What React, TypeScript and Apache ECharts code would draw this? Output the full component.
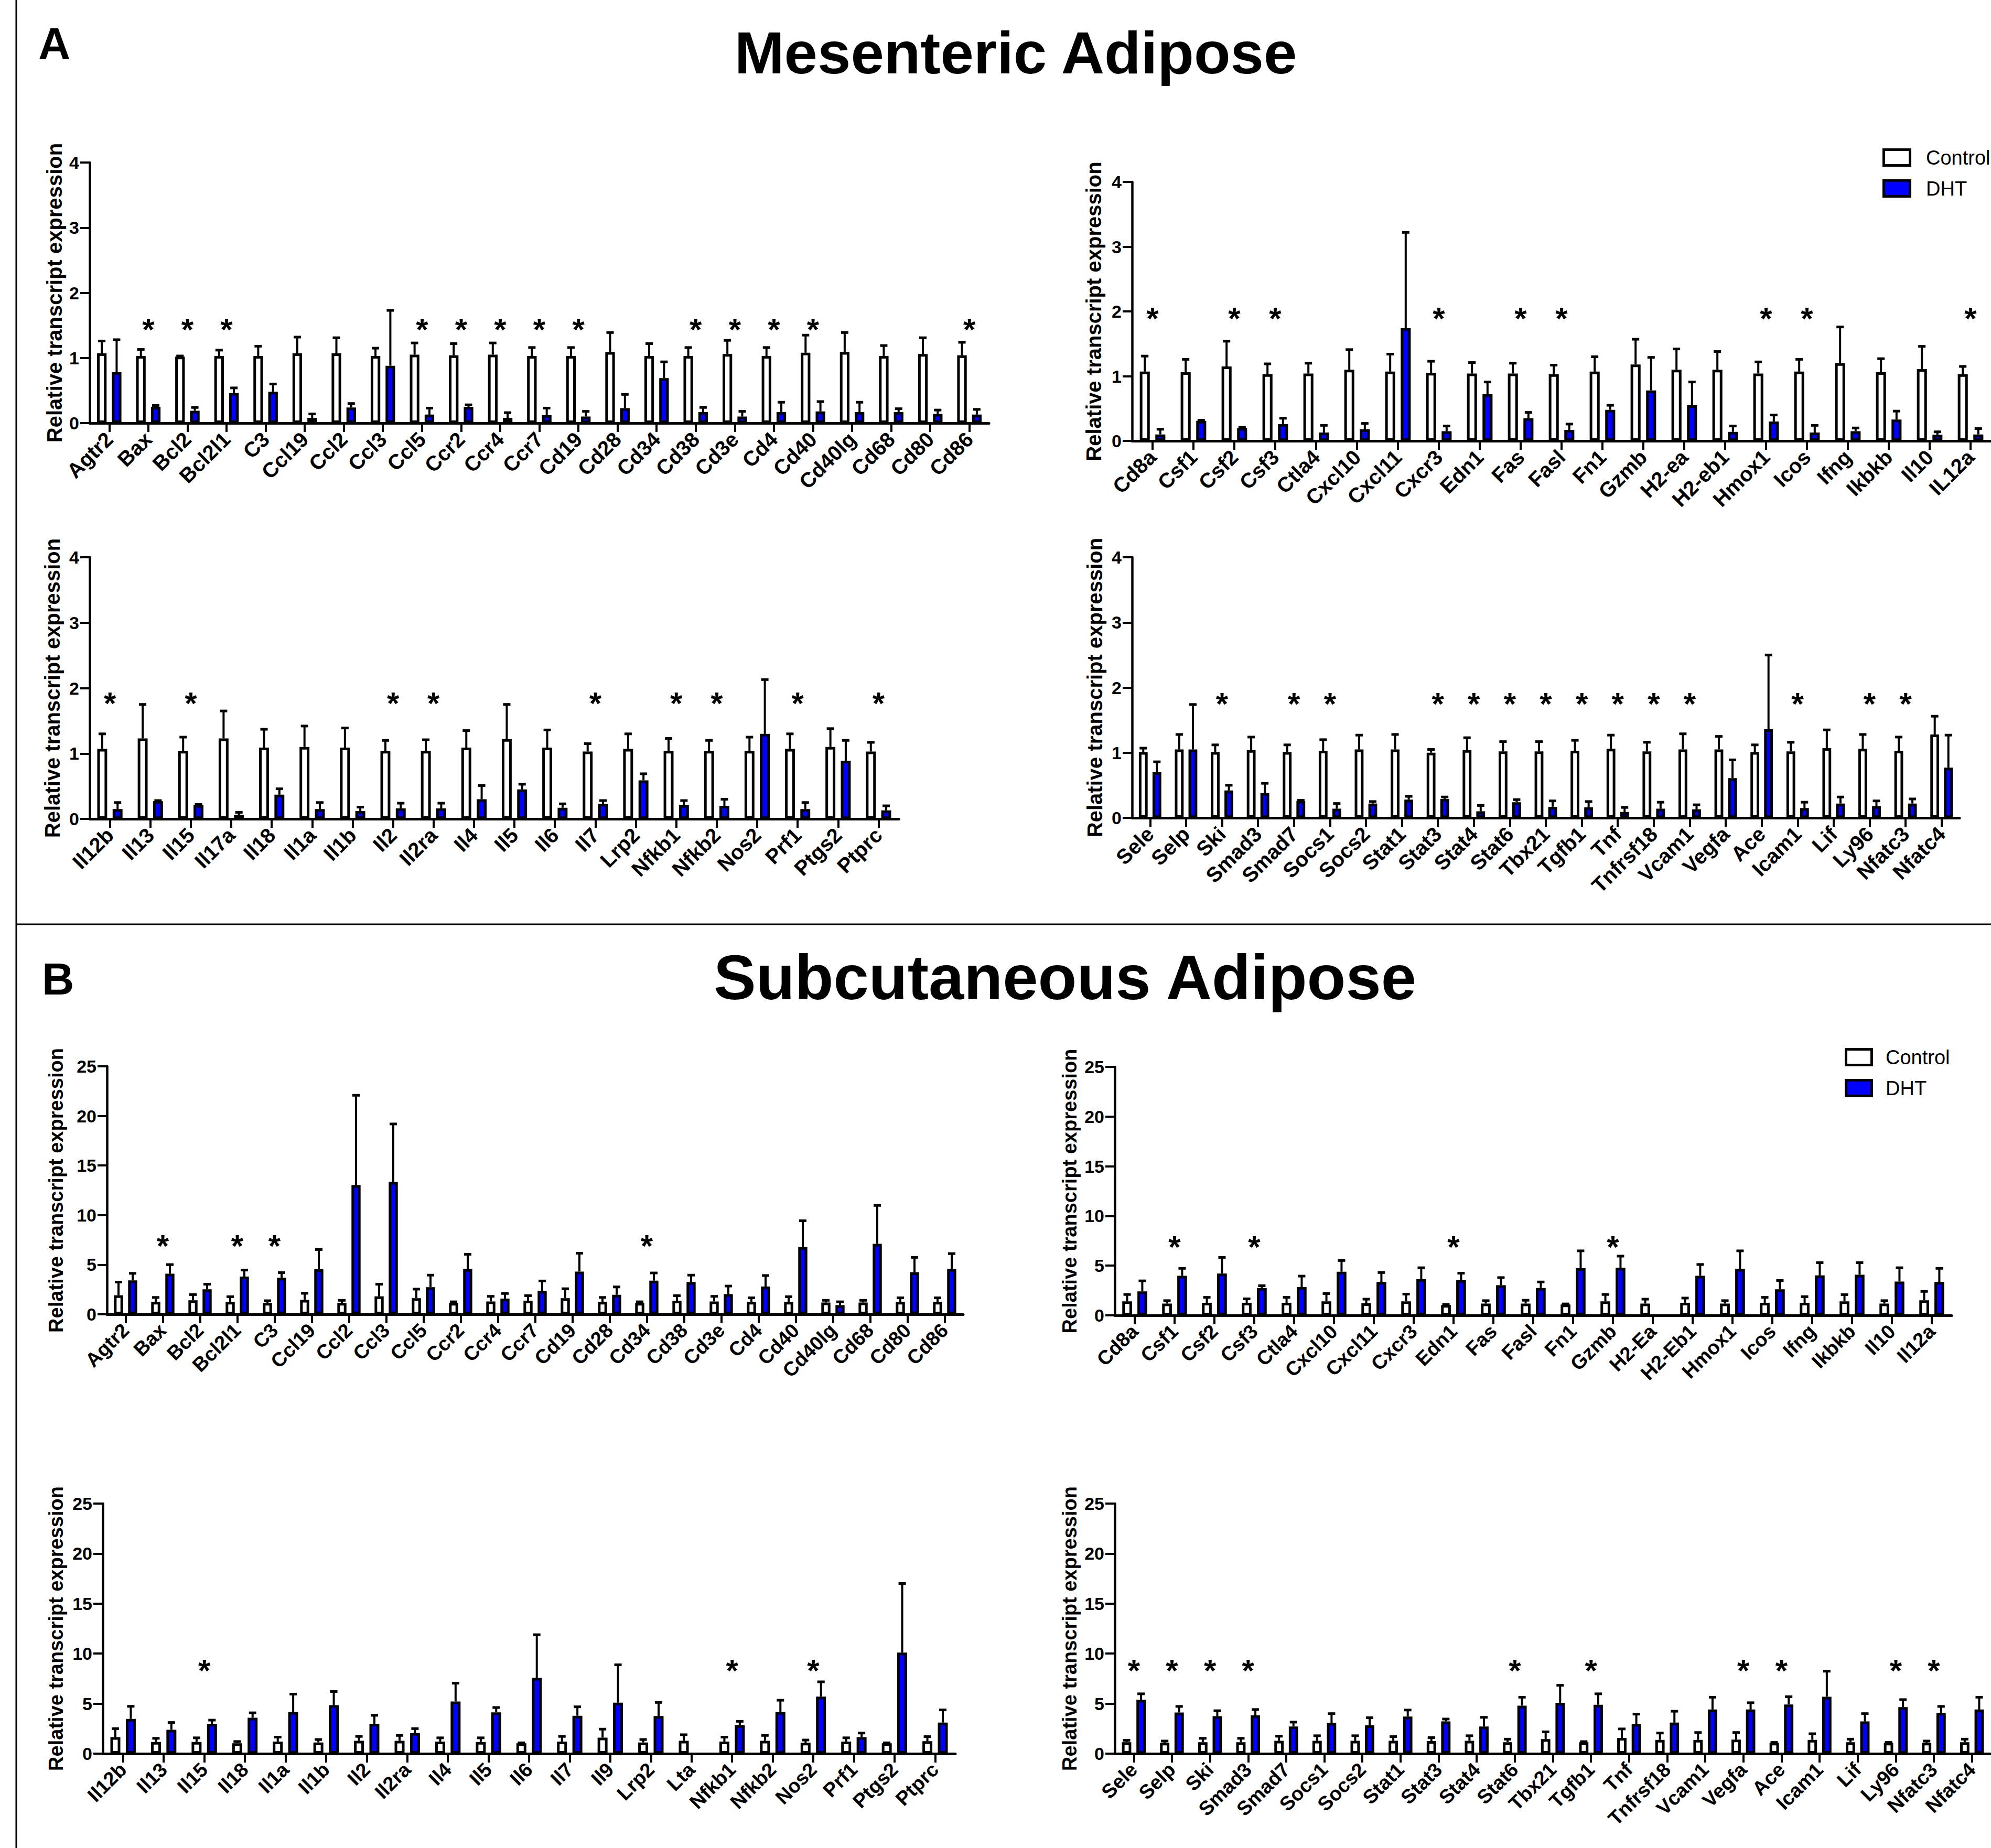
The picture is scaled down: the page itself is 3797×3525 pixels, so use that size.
import React, { useEffect, useRef } from "react";
import * as echarts from "echarts";

const W = 3797;
const H = 3525;
const FONT = '"Liberation Sans", Arial, Helvetica, sans-serif';

// ---------------- Mesenteric adipose (A) ----------------
const mesA_cats = ["Agtr2", "Bax", "Bcl2", "Bcl2l1", "C3", "Ccl19", "Ccl2", "Ccl3", "Ccl5", "Ccr2", "Ccr4", "Ccr7", "Cd19", "Cd28", "Cd34", "Cd38", "Cd3e", "Cd4", "Cd40", "Cd40lg", "Cd68", "Cd80", "Cd86"];
const mesA_ctrl = [1.07, 1.03, 1.02, 1.03, 1.03, 1.07, 1.07, 1.03, 1.05, 1.04, 1.05, 1.03, 1.03, 1.09, 1.03, 1.03, 1.06, 1.03, 1.08, 1.09, 1.03, 1.06, 1.04];
const mesA_ctrlTop = [1.26, 1.13, 1.03, 1.12, 1.18, 1.32, 1.31, 1.15, 1.23, 1.22, 1.23, 1.16, 1.16, 1.39, 1.22, 1.16, 1.27, 1.16, 1.35, 1.39, 1.19, 1.31, 1.24];
const mesA_dht = [0.78, 0.25, 0.19, 0.46, 0.48, 0.08, 0.24, 0.88, 0.13, 0.25, 0.08, 0.12, 0.1, 0.23, 0.69, 0.17, 0.1, 0.17, 0.18, 0.17, 0.17, 0.14, 0.13];
const mesA_dhtTop = [1.28, 0.27, 0.24, 0.54, 0.6, 0.14, 0.3, 1.73, 0.23, 0.28, 0.16, 0.23, 0.18, 0.44, 0.94, 0.24, 0.18, 0.32, 0.33, 0.32, 0.22, 0.2, 0.21];
const mesA_stars = ["Bax", "Bcl2", "Bcl2l1", "Ccl5", "Ccr2", "Ccr4", "Ccr7", "Cd19", "Cd38", "Cd3e", "Cd4", "Cd40", "Cd86"];
const mesA_starY = 1.54;

const mesB_cats = ["Cd8a", "Csf1", "Csf2", "Csf3", "Ctla4", "Cxcl10", "Cxcl11", "Cxcr3", "Edn1", "Fas", "Fasl", "Fn1", "Gzmb", "H2-ea", "H2-eb1", "Hmox1", "Icos", "Ifng", "Ikbkb", "Il10", "IL12a"];
const mesB_ctrl = [1.07, 1.06, 1.15, 1.03, 1.04, 1.1, 1.07, 1.05, 1.04, 1.04, 1.03, 1.07, 1.18, 1.1, 1.1, 1.04, 1.07, 1.2, 1.06, 1.11, 1.03];
const mesB_ctrlTop = [1.31, 1.26, 1.54, 1.19, 1.2, 1.41, 1.34, 1.23, 1.21, 1.2, 1.17, 1.3, 1.57, 1.42, 1.38, 1.22, 1.26, 1.76, 1.27, 1.46, 1.15];
const mesB_dht = [0.1, 0.31, 0.2, 0.26, 0.13, 0.18, 1.74, 0.15, 0.72, 0.35, 0.17, 0.48, 0.78, 0.55, 0.14, 0.3, 0.13, 0.15, 0.33, 0.095, 0.1];
const mesB_dhtTop = [0.18, 0.32, 0.21, 0.35, 0.24, 0.27, 3.22, 0.23, 0.91, 0.44, 0.26, 0.55, 1.29, 0.91, 0.23, 0.4, 0.24, 0.2, 0.46, 0.14, 0.19];
const mesB_stars = ["Cd8a", "Csf2", "Csf3", "Cxcr3", "Fas", "Fasl", "Hmox1", "Icos", "IL12a"];
const mesB_starY = 2.0;

const mesC_cats = ["Il12b", "Il13", "Il15", "Il17a", "Il18", "Il1a", "Il1b", "Il2", "Il2ra", "Il4", "Il5", "Il6", "Il7", "Lrp2", "Nfkb1", "Nfkb2", "Nos2", "Prf1", "Ptgs2", "Ptprc"];
const mesC_ctrl = [1.07, 1.23, 1.04, 1.23, 1.09, 1.1, 1.09, 1.04, 1.04, 1.09, 1.22, 1.09, 1.03, 1.07, 1.04, 1.04, 1.04, 1.07, 1.1, 1.03];
const mesC_ctrlTop = [1.3, 1.75, 1.25, 1.65, 1.37, 1.42, 1.39, 1.2, 1.21, 1.35, 1.75, 1.36, 1.15, 1.3, 1.23, 1.2, 1.25, 1.3, 1.38, 1.17];
const mesC_dht = [0.15, 0.27, 0.21, 0.06, 0.37, 0.15, 0.12, 0.16, 0.16, 0.3, 0.45, 0.17, 0.23, 0.59, 0.21, 0.2, 1.3, 0.15, 0.89, 0.13];
const mesC_dhtTop = [0.25, 0.28, 0.22, 0.1, 0.46, 0.25, 0.18, 0.24, 0.24, 0.51, 0.53, 0.23, 0.28, 0.69, 0.28, 0.3, 2.13, 0.25, 1.2, 0.2];
const mesC_stars = ["Il12b", "Il15", "Il2", "Il2ra", "Il7", "Nfkb1", "Nfkb2", "Prf1", "Ptprc"];
const mesC_starY = 1.87;

const mesD_cats = ["Sele", "Selp", "Ski", "Smad3", "Smad7", "Socs1", "Socs2", "Stat1", "Stat3", "Stat4", "Stat6", "Tbx21", "Tgfb1", "Tnf", "Tnfrsf18", "Vcam1", "Vegfa", "Ace", "Icam1", "Lif", "Ly96", "Nfatc3", "Nfatc4"];
const mesD_ctrl = [1.01, 1.05, 1.01, 1.04, 1.01, 1.03, 1.05, 1.05, 1.0, 1.04, 1.02, 1.02, 1.03, 1.06, 1.02, 1.05, 1.05, 1.01, 1.02, 1.07, 1.06, 1.03, 1.28];
const mesD_ctrlTop = [1.07, 1.28, 1.12, 1.24, 1.12, 1.2, 1.27, 1.28, 1.05, 1.23, 1.17, 1.17, 1.19, 1.27, 1.16, 1.29, 1.25, 1.12, 1.16, 1.35, 1.28, 1.24, 1.56];
const mesD_dht = [0.7, 1.05, 0.42, 0.38, 0.26, 0.14, 0.22, 0.28, 0.29, 0.1, 0.24, 0.17, 0.16, 0.09, 0.14, 0.13, 0.61, 1.36, 0.15, 0.22, 0.18, 0.22, 0.77];
const mesD_dhtTop = [0.86, 1.74, 0.5, 0.53, 0.27, 0.22, 0.25, 0.33, 0.32, 0.19, 0.28, 0.26, 0.25, 0.16, 0.24, 0.2, 0.89, 2.5, 0.24, 0.32, 0.26, 0.29, 1.27];
const mesD_stars = ["Ski", "Smad7", "Socs1", "Stat3", "Stat4", "Stat6", "Tbx21", "Tgfb1", "Tnf", "Tnfrsf18", "Vcam1", "Icam1", "Ly96", "Nfatc3"];
const mesD_starY = 1.86;

// ---------------- Subcutaneous adipose (B) ----------------
const subA_cats = ["Agtr2", "Bax", "Bcl2", "Bcl2l1", "C3", "Ccl19", "Ccl2", "Ccl3", "Ccl5", "Ccr2", "Ccr4", "Ccr7", "Cd19", "Cd28", "Cd34", "Cd38", "Cd3e", "Cd4", "Cd40", "Cd40lg", "Cd68", "Cd80", "Cd86"];
const subA_ctrl = [1.92, 1.26, 1.41, 1.26, 1.15, 1.45, 1.15, 1.81, 1.63, 1.15, 1.3, 1.37, 1.63, 1.26, 1.15, 1.37, 1.3, 1.26, 1.26, 1.19, 1.19, 1.26, 1.26];
const subA_ctrlTop = [3.25, 1.7, 1.99, 1.77, 1.37, 2.12, 1.41, 3.03, 2.54, 1.26, 1.81, 1.88, 2.58, 1.7, 1.26, 1.88, 1.81, 1.66, 1.77, 1.41, 1.41, 1.66, 1.66];
const subA_dht = [3.42, 4.09, 2.52, 3.8, 3.69, 4.55, 13.03, 13.34, 2.74, 4.57, 1.59, 2.36, 4.31, 1.97, 3.4, 3.25, 2.03, 2.8, 6.78, 0.93, 7.11, 4.24, 4.57];
const subA_dhtTop = [4.13, 5.01, 3.03, 4.46, 4.2, 6.53, 22.08, 19.19, 3.95, 6.05, 2.1, 3.36, 6.16, 2.76, 4.17, 3.95, 2.85, 3.91, 9.43, 1.26, 10.98, 5.74, 6.12];
const subA_stars = ["Bax", "Bcl2l1", "C3", "Cd34"];
const subA_starY = 7.6;

const subB_cats = ["Cd8a", "Csf1", "Csf2", "Csf3", "Ctla4", "Cxcl10", "Cxcl11", "Cxcr3", "Edn1", "Fas", "Fasl", "Fn1", "Gzmb", "H2-Ea", "H2-Eb1", "Hmox1", "Icos", "Ifng", "Ikbkb", "Il10", "Il12a"];
const subB_ctrl = [1.41, 1.19, 1.26, 1.26, 1.26, 1.41, 1.21, 1.41, 1.04, 1.19, 1.19, 1.1, 1.41, 1.19, 1.26, 1.19, 1.26, 1.26, 1.41, 1.19, 1.52];
const subB_ctrlTop = [2.1, 1.48, 1.81, 1.66, 1.81, 2.19, 1.63, 2.14, 1.08, 1.48, 1.52, 1.15, 2.1, 1.63, 1.74, 1.48, 1.81, 1.88, 2.08, 1.48, 2.41];
const subB_dht = [2.41, 3.98, 4.2, 2.76, 2.85, 4.39, 3.36, 3.64, 3.53, 3.03, 2.76, 4.75, 4.79, null, 3.98, 4.68, 2.63, 4.02, 4.09, 3.4, 3.36];
const subB_dhtTop = [3.47, 4.73, 5.83, 2.98, 3.95, 5.52, 4.31, 4.79, 4.24, 3.8, 3.36, 6.49, 5.96, null, 5.12, 6.49, 3.51, 5.3, 5.3, 4.79, 4.73];
const subB_stars = ["Csf1", "Csf3", "Edn1", "Gzmb"];
const subB_starY = 7.6;

const subC_cats = ["Il12b", "Il13", "Il15", "Il18", "Il1a", "Il1b", "Il2", "Il2ra", "Il4", "Il5", "Il6", "Il7", "Il9", "Lrp2", "Lta", "Nfkb1", "Nfkb2", "Nos2", "Prf1", "Ptgs2", "Ptprc"];
const subC_ctrl = [1.65, 1.17, 1.17, 1.04, 1.21, 1.12, 1.29, 1.29, 1.21, 1.17, 1.04, 1.21, 1.6, 1.12, 1.29, 1.21, 1.29, 1.09, 1.21, 1.04, 1.24];
const subC_ctrlTop = [2.5, 1.53, 1.58, 1.21, 1.65, 1.41, 1.72, 1.82, 1.58, 1.58, 1.08, 1.72, 2.45, 1.41, 1.89, 1.65, 1.82, 1.36, 1.58, 1.08, 1.7];
const subC_dht = [3.47, 2.38, 2.99, 3.59, 4.15, 4.85, 2.99, 2.06, 5.22, 4.13, 7.57, 3.79, 5.1, 3.76, null, 2.86, 4.15, 5.7, 1.65, 10.1, 3.11];
const subC_dhtTop = [4.73, 3.11, 3.35, 4.08, 5.95, 6.21, 3.83, 2.5, 7.04, 4.61, 11.89, 4.68, 8.88, 5.12, null, 3.23, 5.34, 7.18, 2.06, 17.01, 4.37];
const subC_stars = ["Il15", "Nfkb1", "Nos2"];
const subC_starY = 9.0;

const subD_cats = ["Sele", "Selp", "Ski", "Smad3", "Smad7", "Socs1", "Socs2", "Stat1", "Stat3", "Stat4", "Stat6", "Tbx21", "Tgfb1", "Tnf", "Tnfrsf18", "Vcam1", "Vegfa", "Ace", "Icam1", "Lif", "Ly96", "Nfatc3", "Nfatc4"];
const subD_ctrl = [1.14, 1.09, 1.14, 1.14, 1.28, 1.28, 1.28, 1.28, 1.26, 1.28, 1.14, 1.45, 1.14, 1.57, 1.38, 1.38, 1.4, 1.09, 1.38, 1.14, 1.09, 1.09, 1.14];
const subD_ctrlTop = [1.33, 1.26, 1.53, 1.53, 1.74, 1.79, 1.79, 1.7, 1.6, 1.79, 1.45, 2.18, 1.2, 2.47, 2.06, 2.11, 2.11, 1.12, 1.99, 1.45, 1.12, 1.26, 1.45];
const subD_dht = [5.38, 4.12, 3.75, 3.83, 2.71, 3.08, 2.83, 3.71, 3.22, 2.71, 4.8, 5.09, 4.89, 2.96, 3.1, 4.41, 4.41, 4.92, 5.69, 3.22, 4.65, 4.07, 4.41];
const subD_dhtTop = [5.98, 4.72, 4.29, 4.41, 3.15, 4.0, 3.59, 4.36, 3.46, 3.63, 5.64, 6.83, 5.98, 3.95, 4.24, 5.64, 5.09, 5.69, 8.24, 4.0, 5.4, 4.72, 5.64];
const subD_stars = ["Sele", "Selp", "Ski", "Smad3", "Stat6", "Tgfb1", "Vegfa", "Ace", "Ly96", "Nfatc3"];
const subD_starY = 9.0;

const mesTicks = { max: 4, step: 1 };
const subTicks = { max: 25, step: 5 };

const Y_TITLE = "Relative transcript expression";
const SERIES_NAMES = ["Control", "DHT"];

// layout (pixels) for each panel
const panels = [
  { cats: mesA_cats, ctrl: mesA_ctrl, ctrlTop: mesA_ctrlTop, dht: mesA_dht, dhtTop: mesA_dhtTop, stars: mesA_stars, starY: mesA_starY, ticks: mesTicks, left: 171, top: 310, width: 1715, height: 497, titleX: 104, catFont: 40, titleFont: 40 },
  { cats: mesB_cats, ctrl: mesB_ctrl, ctrlTop: mesB_ctrlTop, dht: mesB_dht, dhtTop: mesB_dhtTop, stars: mesB_stars, starY: mesB_starY, ticks: mesTicks, left: 2159, top: 347, width: 1638, height: 494, titleX: 2086, catFont: 40, titleFont: 40 },
  { cats: mesC_cats, ctrl: mesC_ctrl, ctrlTop: mesC_ctrlTop, dht: mesC_dht, dhtTop: mesC_dhtTop, stars: mesC_stars, starY: mesC_starY, ticks: mesTicks, left: 171, top: 1063, width: 1543, height: 499, titleX: 100, catFont: 40, titleFont: 40 },
  { cats: mesD_cats, ctrl: mesD_ctrl, ctrlTop: mesD_ctrlTop, dht: mesD_dht, dhtTop: mesD_dhtTop, stars: mesD_stars, starY: mesD_starY, ticks: mesTicks, left: 2159, top: 1063, width: 1578, height: 497, titleX: 2088, catFont: 40, titleFont: 40 },
  { cats: subA_cats, ctrl: subA_ctrl, ctrlTop: subA_ctrlTop, dht: subA_dht, dhtTop: subA_dhtTop, stars: subA_stars, starY: subA_starY, ticks: subTicks, left: 204, top: 2034, width: 1633, height: 473, titleX: 107, catFont: 38, titleFont: 38 },
  { cats: subB_cats, ctrl: subB_ctrl, ctrlTop: subB_ctrlTop, dht: subB_dht, dhtTop: subB_dhtTop, stars: subB_stars, starY: subB_starY, ticks: subTicks, left: 2126, top: 2035, width: 1596, height: 474, titleX: 2040, catFont: 38, titleFont: 38 },
  { cats: subC_cats, ctrl: subC_ctrl, ctrlTop: subC_ctrlTop, dht: subC_dht, dhtTop: subC_dhtTop, stars: subC_stars, starY: subC_starY, ticks: subTicks, left: 196, top: 2868, width: 1626, height: 477, titleX: 107, catFont: 38, titleFont: 38 },
  { cats: subD_cats, ctrl: subD_ctrl, ctrlTop: subD_ctrlTop, dht: subD_dht, dhtTop: subD_dhtTop, stars: subD_stars, starY: subD_starY, ticks: subTicks, left: 2126, top: 2868, width: 1671, height: 477, titleX: 2040, catFont: 38, titleFont: 38 },
];

const BAR_FRAC = 0.245; // bar width as fraction of the category band
const BAR_GAP = 0.55; // gap between the two bars as fraction of bar width
const STAR_SIZE = 60;

function buildOption() {
  const grid: any[] = [];
  const xAxis: any[] = [];
  const yAxis: any[] = [];
  const series: any[] = [];
  const graphic: any[] = [];

  panels.forEach((p, i) => {
    grid.push({ left: p.left, top: p.top, width: p.width, height: p.height, containLabel: false });
    xAxis.push({
      type: "category",
      gridIndex: i,
      data: p.cats,
      axisLine: { show: true, lineStyle: { color: "#000", width: 5 } },
      axisTick: { show: true, alignWithLabel: true, length: 17, lineStyle: { color: "#000", width: 4 } },
      axisLabel: {
        interval: 0,
        rotate: 45,
        margin: 24,
        color: "#000",
        fontSize: p.catFont,
        fontWeight: "bold",
        fontFamily: FONT,
      },
      splitLine: { show: false },
    });
    yAxis.push({
      type: "value",
      gridIndex: i,
      min: 0,
      max: p.ticks.max,
      interval: p.ticks.step,
      axisLine: { show: true, lineStyle: { color: "#000", width: 4.5 } },
      axisTick: { show: true, length: 18, lineStyle: { color: "#000", width: 4 } },
      axisLabel: { color: "#000", fontSize: 34, fontWeight: "bold", fontFamily: FONT, margin: 20 },
      splitLine: { show: false },
    });

    const barCommon = {
      type: "bar",
      xAxisIndex: i,
      yAxisIndex: i,
      barWidth: (BAR_FRAC * 100).toFixed(1) + "%",
      barGap: (BAR_GAP * 100).toFixed(0) + "%",
      silent: true,
      z: 2,
    };
    series.push({
      ...barCommon,
      name: SERIES_NAMES[0],
      data: p.ctrl,
      itemStyle: { color: "#ffffff", borderColor: "#000", borderWidth: 5 },
    });
    series.push({
      ...barCommon,
      name: SERIES_NAMES[1],
      data: p.dht.map((v) => (v == null ? "-" : v)),
      itemStyle: { color: "#0000ff", borderColor: "#000", borderWidth: 5 },
    });

    const errData: any[] = [];
    p.cats.forEach((_, j) => {
      if (p.ctrl[j] != null && p.ctrlTop[j] != null) errData.push([j, p.ctrl[j], p.ctrlTop[j], 0]);
      if (p.dht[j] != null && p.dhtTop[j] != null) errData.push([j, p.dht[j], p.dhtTop[j], 1]);
    });
    series.push({
      type: "custom",
      xAxisIndex: i,
      yAxisIndex: i,
      silent: true,
      z: 4,
      data: errData,
      renderItem: (params: any, api: any) => {
        const idx = api.value(0);
        const mean = api.value(1);
        const top = api.value(2);
        const g = api.value(3);
        const band = api.coord([1, 0])[0] - api.coord([0, 0])[0];
        const w = band * BAR_FRAC;
        const off = (w + w * BAR_GAP) / 2;
        const cx = api.coord([idx, 0])[0] + (g === 0 ? -off : off);
        const y0 = api.coord([idx, mean])[1];
        const y1 = api.coord([idx, top])[1];
        return {
          type: "group",
          children: [
            { type: "line", shape: { x1: cx, y1: y0, x2: cx, y2: y1 }, style: { stroke: "#000", lineWidth: 4 } },
            { type: "line", shape: { x1: cx - 7, y1: y1, x2: cx + 7, y2: y1 }, style: { stroke: "#000", lineWidth: 5 } },
          ],
        };
      },
    });

    const starData = p.stars.map((s) => [p.cats.indexOf(s), p.starY]);
    series.push({
      type: "custom",
      xAxisIndex: i,
      yAxisIndex: i,
      silent: true,
      z: 5,
      data: starData,
      renderItem: (params: any, api: any) => {
        const pt = api.coord([api.value(0), api.value(1)]);
        return {
          type: "text",
          x: pt[0],
          y: pt[1] + STAR_SIZE * 0.22,
          style: {
            text: "*",
            fill: "#000",
            fontSize: STAR_SIZE,
            fontWeight: "bold",
            fontFamily: FONT,
            textAlign: "center",
            textVerticalAlign: "middle",
            verticalAlign: "middle",
          },
        };
      },
    });

    graphic.push({
      type: "text",
      x: p.titleX,
      y: p.top + p.height / 2,
      rotation: Math.PI / 2,
      style: {
        text: Y_TITLE,
        fill: "#000",
        fontSize: p.titleFont,
        fontWeight: "bold",
        fontFamily: FONT,
        textAlign: "center",
        textVerticalAlign: "middle",
        verticalAlign: "middle",
      },
    });
  });

  // frame lines
  graphic.push({ type: "line", shape: { x1: 31, y1: 0, x2: 31, y2: H }, style: { stroke: "#000", lineWidth: 3 } });
  graphic.push({ type: "line", shape: { x1: 31, y1: 1763, x2: W, y2: 1763 }, style: { stroke: "#000", lineWidth: 3 } });

  const txt = (text: string, x: number, y: number, size: number, weight: string, align = "left") => ({
    type: "text",
    x,
    y,
    style: {
      text,
      fill: "#000",
      fontSize: size,
      fontWeight: weight,
      fontFamily: FONT,
      textAlign: align,
      textVerticalAlign: "middle",
      verticalAlign: "middle",
    },
  });

  graphic.push(txt("A", 73, 83, 85, "bold"));
  graphic.push(txt("Mesenteric Adipose", 1937, 100, 114, "bold", "center"));
  graphic.push(txt("B", 80, 1867, 85, "bold"));
  graphic.push(txt("Subcutaneous Adipose", 2031, 1864, 121, "bold", "center"));

  // legends
  const legend = (x: number, y1: number, y2: number, w: number, h: number, tx: number) => {
    graphic.push({ type: "rect", shape: { x, y: y1, width: w, height: h }, style: { fill: "#fff", stroke: "#000", lineWidth: 5 } });
    graphic.push({ type: "rect", shape: { x, y: y2, width: w, height: h }, style: { fill: "#0000ff", stroke: "#000", lineWidth: 5 } });
    graphic.push(txt(SERIES_NAMES[0], tx, y1 + h / 2, 38, "normal"));
    graphic.push(txt(SERIES_NAMES[1], tx, y2 + h / 2, 38, "normal"));
  };
  legend(3592.5, 285.5, 344.5, 50, 30, 3673);
  legend(3520.5, 2001.5, 2060.5, 49, 30, 3596);

  return {
    animation: false,
    backgroundColor: "#ffffff",
    textStyle: { fontFamily: FONT },
    grid,
    xAxis,
    yAxis,
    series,
    graphic: { elements: graphic },
  };
}

export default function App() {
  const ref = useRef<HTMLDivElement>(null);
  useEffect(() => {
    document.body.style.margin = "0";
    if (!ref.current) return;
    const chart = echarts.init(ref.current, undefined, { renderer: "svg", width: W, height: H });
    chart.setOption(buildOption() as any);
    return () => chart.dispose();
  }, []);
  return <div ref={ref} style={{ position: "absolute", left: 0, top: 0, width: W, height: H, background: "#fff" }} />;
}
